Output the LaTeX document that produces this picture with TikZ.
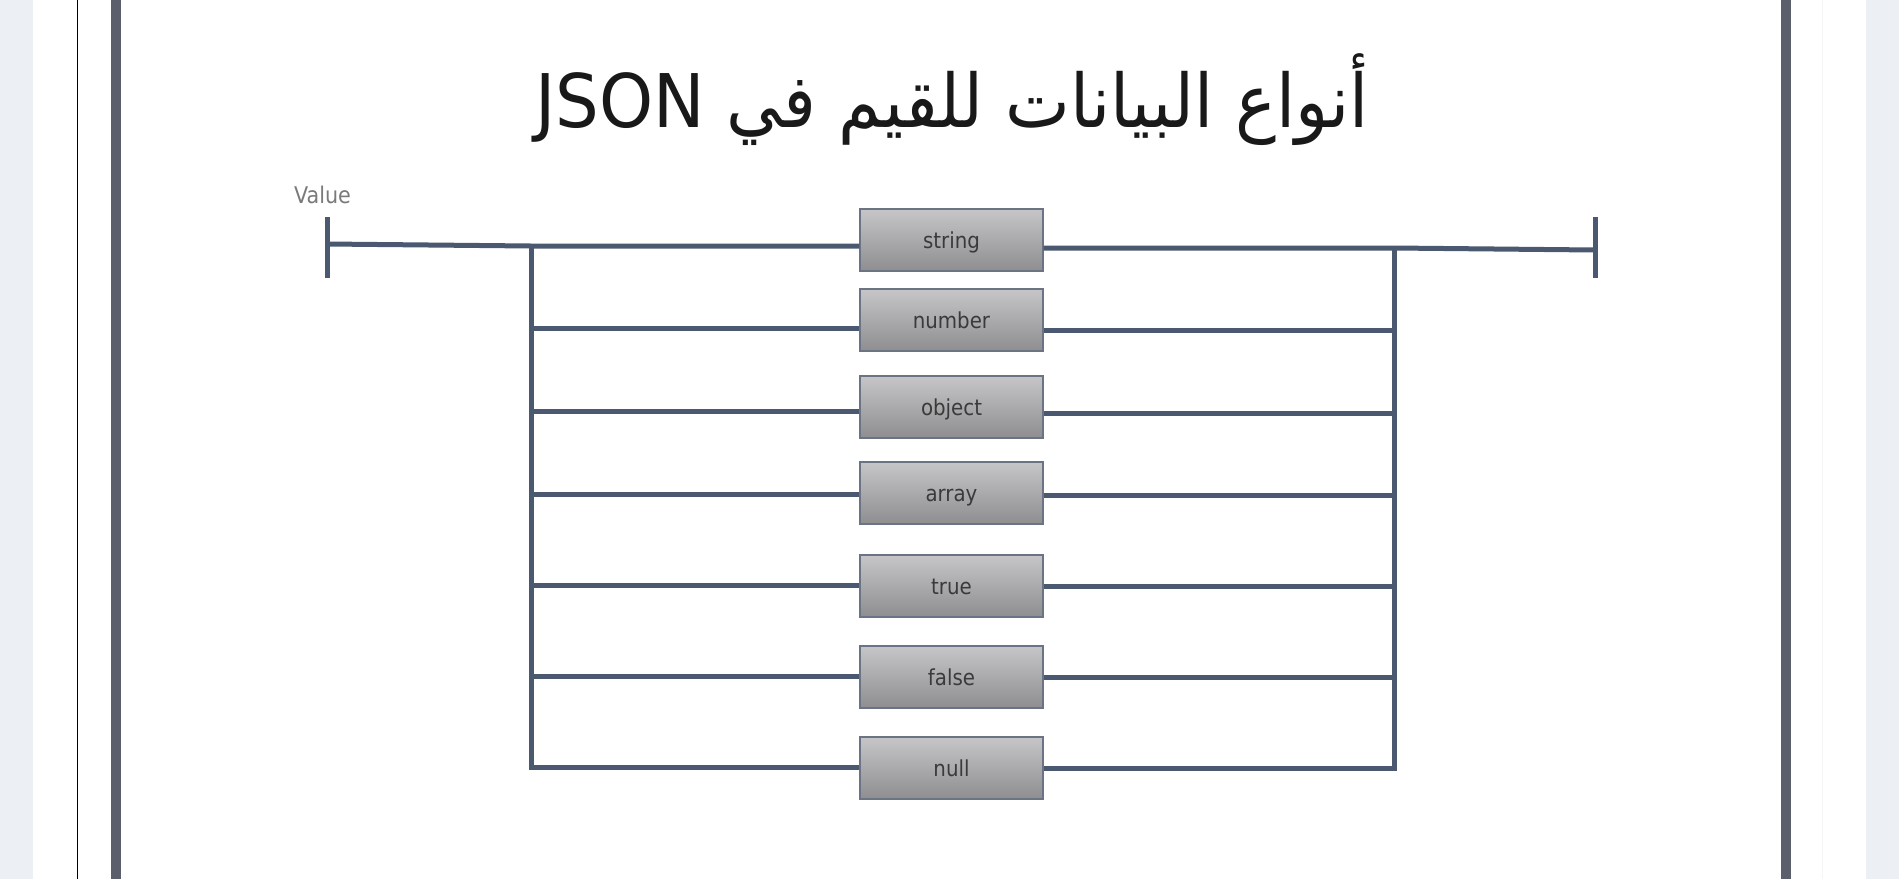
\documentclass[tikz,border=0pt]{standalone}
\usepackage{fontspec}
\setmainfont{DejaVu Sans}
\newfontfamily\arabicfont[Script=Arabic]{DejaVu Sans}
\newfontfamily\condfont{DejaVu Sans Condensed}
\TeXXeTstate=1
\usetikzlibrary{calc}
\definecolor{bandc}{HTML}{ECEFF4}
\definecolor{framec}{HTML}{5B5E6B}
\definecolor{wirec}{HTML}{4A5870}
\definecolor{boxtop}{HTML}{C6C6C8}
\definecolor{boxbot}{HTML}{8E8E90}
\definecolor{boxborder}{HTML}{6A7484}
\definecolor{boxtext}{HTML}{3A3A3A}
\definecolor{valuegray}{HTML}{7A7A7A}
\definecolor{faintc}{HTML}{F6F6F6}
\tikzset{
  wire/.style={draw=wirec, line width=5pt, line join=miter, line cap=butt},
  tbox/.style={draw=boxborder, line width=1.3pt, top color=boxtop, bottom color=boxbot,
    minimum width=183pt, minimum height=62pt, inner sep=0pt, text height=16pt, text depth=0pt,
    font=\condfont\fontsize{22}{24}\selectfont, text=boxtext},
  framebar/.style={draw=framec, line width=9.5pt},
}
\begin{document}
\begin{tikzpicture}[x=1pt,y=1pt]
\useasboundingbox (0,0) rectangle (1899,-879);
\fill[white] (0,0) rectangle (1899,-879);
\fill[bandc] (0,0) rectangle (33,-879);
\fill[bandc] (1866,0) rectangle (1899,-879);
\draw[black, line width=1.5pt] (77.5,0) -- (77.5,-879);
\draw[framebar] (116,0) -- (116,-879);
\draw[framebar] (1786,0) -- (1786,-879);
\draw[faintc, line width=1pt] (1822,0) -- (1822,-879);

% title
\node[font=\arabicfont\fontsize{74}{80}\selectfont, text=black!90, anchor=base, inner sep=0pt] (title) at (952,-127)
  {\resizebox{834pt}{\height}{\beginR أنواع البيانات للقيم في \beginL JSON\endL\endR}};

% label
\node[font=\condfont\fontsize{23}{25}\selectfont, text=valuegray, anchor=base west, inner sep=0pt] (val) at (294,-203) {Value};

% boxes
\node[tbox] (s) at (951.5,-240) {string};
\node[tbox] (nu) at (951.5,-320) {number};
\node[tbox] (o) at (951.5,-407) {object};
\node[tbox] (a) at (951.5,-493) {array};
\node[tbox] (t) at (951.5,-586) {true};
\node[tbox] (f) at (951.5,-677) {false};
\node[tbox] (nl) at (951.5,-768) {null};

% terminals
\coordinate (st) at (327,-244);
\coordinate (en) at (1595,-250);
\draw[wire] (327,-217) -- (327,-278);
\draw[wire] (1595,-217) -- (1595,-278);

% bus coordinates
\coordinate (L1) at (531,-246);
\coordinate (L2) at (531,-328);
\coordinate (L3) at (531,-411);
\coordinate (L4) at (531,-494);
\coordinate (L5) at (531,-585);
\coordinate (L6) at (531,-676);
\coordinate (L7) at (531,-767);
\coordinate (R1) at (1394,-248);
\coordinate (R2) at (1394,-330);
\coordinate (R3) at (1394,-413);
\coordinate (R4) at (1394,-495);
\coordinate (R5) at (1394,-586);
\coordinate (R6) at (1394,-677);
\coordinate (R7) at (1394,-768);

% main line
\draw[wire] (st) -- (L1) -- (L1 -| s.west);
\draw[wire] (R1 -| s.east) -- (R1) -- (en);
% buses
\draw[wire] (L1) -- (L7) -- (L7 -| nl.west);
\draw[wire] (R1) -- (R7) -- (R7 -| nl.east);
% branches
\draw[wire] (L2) -- (L2 -| nu.west);
\draw[wire] (L3) -- (L3 -| o.west);
\draw[wire] (L4) -- (L4 -| a.west);
\draw[wire] (L5) -- (L5 -| t.west);
\draw[wire] (L6) -- (L6 -| f.west);
\draw[wire] (R2 -| nu.east) -- (R2);
\draw[wire] (R3 -| o.east) -- (R3);
\draw[wire] (R4 -| a.east) -- (R4);
\draw[wire] (R5 -| t.east) -- (R5);
\draw[wire] (R6 -| f.east) -- (R6);
\end{tikzpicture}
\end{document}
